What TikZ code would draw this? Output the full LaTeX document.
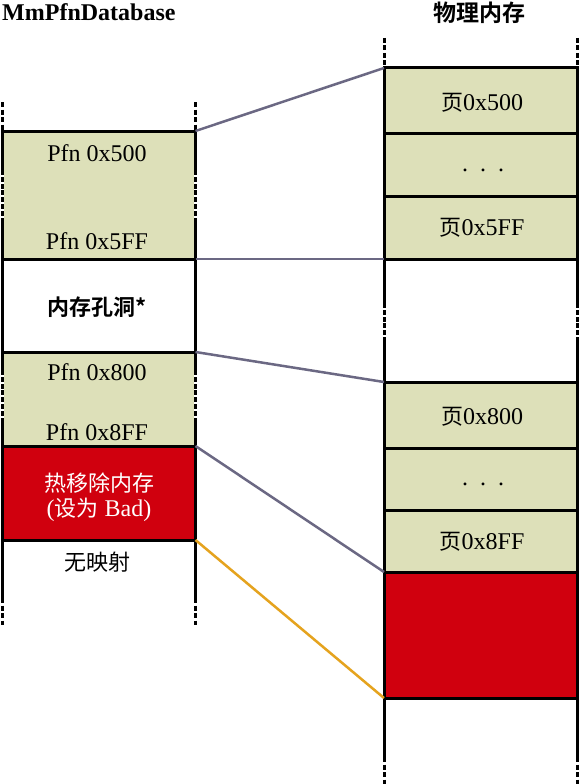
\documentclass[tikz,border=0pt]{standalone}
\usepackage{fontspec}
\setmainfont{Liberation Serif}
\newfontfamily\cjk{Noto Sans CJK SC}
\newfontfamily\cjkb{Noto Sans CJK SC Bold}
\definecolor{pfn}{HTML}{DDE0B9}
\definecolor{bad}{HTML}{D0000E}
\definecolor{linkc}{HTML}{6B6883}
\definecolor{orangec}{HTML}{E5A31E}
\newcommand{\cj}[1]{{\cjk\fontsize{22}{24}\selectfont #1}}
\begin{document}
\begin{tikzpicture}[x=1pt,y=-1pt,
  cell/.style={draw=black,line width=3pt,inner sep=0pt,outer sep=0pt,anchor=north west,minimum width=193pt},
  lbl/.style={font=\fontsize{24}{26}\selectfont,inner sep=0pt},
  edge/.style={line width=3pt,black},
  dashedge/.style={line width=3pt,black,dash pattern=on 5pt off 2.5pt},
  gapmark/.style={line width=3.4pt,white,dash pattern=on 1.8pt off 5pt},
  link/.style={line width=2.5pt,linkc},
  linkb/.style={line width=2.5pt,orangec}]
\useasboundingbox (0,0) rectangle (580,784);
\fill[white] (0,0) rectangle (580,784);

% left column boxes
\node[cell,fill=pfn,minimum height=128pt] (L1) at (2.5,131) {};
\node[cell,fill=white,minimum height=93pt] (L2) at (2.5,259) {};
\node[cell,fill=pfn,minimum height=94pt] (L3) at (2.5,352) {};
\node[cell,fill=bad,minimum height=94pt] (L4) at (2.5,446) {};

% right column boxes
\node[cell,fill=pfn,minimum height=65pt] (R1) at (384,68) {};
\node[cell,fill=pfn,minimum height=63pt] (R2) at (384,133) {};
\node[cell,fill=pfn,minimum height=63pt] (R3) at (384,196) {};
\node[cell,fill=pfn,minimum height=66pt] (R4) at (384,382) {};
\node[cell,fill=pfn,minimum height=62pt] (R5) at (384,448) {};
\node[cell,fill=pfn,minimum height=62pt] (R6) at (384,510) {};
\node[cell,fill=bad,minimum height=126pt] (R7) at (384,572) {};

% column edges
\coordinate (la) at (2.5,102);  \coordinate (lb) at (2.5,598);  \coordinate (lc) at (2.5,625);
\coordinate (ra) at (195.5,102); \coordinate (rb) at (195.5,598); \coordinate (rc) at (195.5,625);
\draw[dashedge] (la) -- (L1.north west);
\draw[dashedge] (ra) -- (L1.north east);
\draw[edge] (L4.south west) -- (lb);
\draw[edge] (L4.south east) -- (rb);
\draw[dashedge] (lb) -- (lc);
\draw[dashedge] (rb) -- (rc);

\coordinate (pa) at (384,38);  \coordinate (pb) at (384,757);  \coordinate (pc) at (384,784);
\coordinate (qa) at (577,38);  \coordinate (qb) at (577,757);  \coordinate (qc) at (577,784);
\draw[dashedge] (pa) -- (R1.north west);
\draw[dashedge] (qa) -- (R1.north east);
\draw[edge] (R3.south west) -- (R4.north west);
\draw[edge] (R3.south east) -- (R4.north east);
\draw[edge] (R7.south west) -- (pb);
\draw[edge] (R7.south east) -- (qb);
\draw[dashedge] (pb) -- (pc);
\draw[dashedge] (qb) -- (qc);

% small breaks in the edges
\draw[gapmark] (2.5,175) -- (2.5,222);
\draw[gapmark] (195.5,175) -- (195.5,222);
\draw[gapmark] (2.5,375) -- (2.5,420);
\draw[gapmark] (195.5,375) -- (195.5,420);
\draw[gapmark] (384,308) -- (384,338);
\draw[gapmark] (577,308) -- (577,338);

% connectors
\draw[link] (L1.north east) -- (R1.north west);
\draw[link] (L1.south east) -- (R3.south west);
\draw[link] (L3.north east) -- (R4.north west);
\draw[link] (L3.south east) -- (R6.south west);
\draw[linkb] (L4.south east) -- (R7.south west);

% titles
\node[lbl,anchor=base west,font=\fontsize{24}{26}\selectfont\bfseries] (t1) at (2,21) {MmPfnDatabase};
\node[lbl,anchor=base,font=\fontsize{23}{26}\selectfont\cjkb] (t2) at (479,22) {物理内存};

% left texts
\node[lbl,anchor=base] (p1) at (97,161) {Pfn 0x500};
\node[lbl,anchor=base] (p2) at (97,249) {Pfn 0x5FF};
\node[lbl,anchor=center,font=\fontsize{22}{24}\selectfont\cjkb] (h1) at (97,307) {内存孔洞*};
\node[lbl,anchor=base] (p3) at (97,380) {Pfn 0x800};
\node[lbl,anchor=base] (p4) at (97,440) {Pfn 0x8FF};
\node[lbl,anchor=center,text=white,font=\fontsize{22}{24}\selectfont\cjk] (b1) at (99,483) {热移除内存};
\node[lbl,anchor=center,text=white] (b2) at (99,510) {(\cj{设为} Bad)};
\node[lbl,anchor=center,font=\fontsize{22}{24}\selectfont\cjk] (n1) at (97,562) {无映射};

% right texts
\node[lbl,anchor=base] (g1) at (482,110) {\cj{页}0x500};
\node[lbl,anchor=base] (d1) at (483,171) {.\ \ .\ \ .};
\node[lbl,anchor=base] (g2) at (482,235) {\cj{页}0x5FF};
\node[lbl,anchor=base] (g3) at (482,424) {\cj{页}0x800};
\node[lbl,anchor=base] (d2) at (483,485) {.\ \ .\ \ .};
\node[lbl,anchor=base] (g4) at (482,549) {\cj{页}0x8FF};
\end{tikzpicture}
\end{document}
